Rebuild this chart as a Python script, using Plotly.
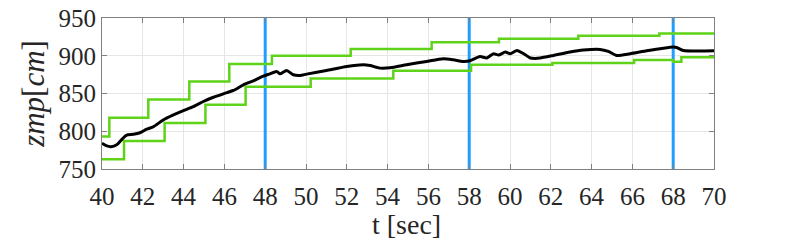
import plotly.graph_objects as go

# Upper bound (step)
upper_t = [40.0, 40.36, 42.27, 44.28, 46.24, 48.33, 52.19, 56.16, 59.46, 63.35, 67.32, 70.0]
upper_v = [793, 818, 842, 866, 889, 900, 909, 918, 922.5, 926.5, 929.5, 929.5]

# Lower bound (step)
lower_t = [40.0, 41.08, 43.07, 45.07, 47.04, 50.23, 54.28, 58.09, 62.08, 66.08, 68.0, 68.4, 70.0]
lower_v = [763, 787, 811, 835, 859, 870, 880, 888, 890.5, 894.5, 892, 898, 898.5]

# ZMP trajectory
zmp_t = [40.0, 40.2, 40.44, 40.72, 41.0, 41.21, 41.54, 41.86, 42.19, 42.52, 43.0, 43.5, 43.99,
         44.48, 44.97, 45.46, 45.95, 46.44, 46.93, 47.42, 47.91, 48.23, 48.56, 48.73, 49.05,
         49.38, 49.71, 50.03, 51.0, 52.0, 52.81, 53.14, 53.63, 54.12, 54.93, 55.91, 56.73,
         57.22, 57.71, 58.04, 58.53, 58.86, 59.19, 59.44, 59.77, 60.01, 60.34, 60.67, 61.0,
         61.23, 61.47, 62.12, 62.94, 63.59, 64.41, 64.82, 65.23, 65.88, 66.7, 67.52, 68.01,
         68.17, 68.5, 70.0]
zmp_v = [784, 781, 779.6, 782, 790, 795, 796, 798, 802.7, 806, 815, 821.7, 827.4,
         832.7, 839.4, 845, 849.6, 854, 861.5, 866.8, 873, 876, 879.2, 876, 880.5,
         874.8, 873.9, 875.7, 880.5, 885.8, 888, 887, 883.6, 884, 888, 892.5, 896,
         894.7, 892.5, 893.4, 899, 897, 902.7, 901, 904.9, 902.7, 907, 902.7, 897,
         896.5, 897, 900.4, 904.9, 907.5, 908.4, 905.8, 900.4, 902.7, 906.6, 910, 911.5,
         911, 907, 906.6]

# Vertical markers
vlines_t = [48, 58, 68]

x_ticks = list(range(40, 71, 2))
y_ticks = [750, 800, 850, 900, 950]
x_title = "t [sec]"
y_title = "<i>zmp</i>[<i>cm</i>]"

green = "#5fd319"
blue = "#1e9fff"
serif = "Times New Roman"
txt = "#262626"

fig = go.Figure()
for t in vlines_t:
    fig.add_trace(go.Scatter(x=[t, t], y=[750, 950], mode="lines",
                             line=dict(color=blue, width=3), showlegend=False))
fig.add_trace(go.Scatter(x=upper_t, y=upper_v, mode="lines", line_shape="hv",
                         line=dict(color=green, width=2.5), showlegend=False))
fig.add_trace(go.Scatter(x=lower_t, y=lower_v, mode="lines", line_shape="hv",
                         line=dict(color=green, width=2.5), showlegend=False))
fig.add_trace(go.Scatter(x=zmp_t, y=zmp_v, mode="lines", line_shape="spline",
                         line=dict(color="black", width=3, smoothing=0.6), showlegend=False))

axis_common = dict(
    showline=True, linecolor="#808080", linewidth=1, mirror="allticks",
    ticks="inside", ticklen=5, tickcolor="#808080",
    showgrid=True, gridcolor="#e6e6e6", gridwidth=1, zeroline=False,
    tickfont=dict(family=serif, size=25, color=txt),
    automargin=False,
)
fig.update_xaxes(range=[40, 70], tickvals=x_ticks, ticktext=[str(v) for v in x_ticks],
                 ticklabelstandoff=5, **axis_common)
fig.update_yaxes(range=[750, 950], tickvals=y_ticks, ticktext=[str(v) for v in y_ticks],
                 title=dict(text=y_title, font=dict(family=serif, size=31, color=txt),
                            standoff=4),
                 **axis_common)
fig.add_annotation(text=x_title, xref="paper", yref="paper", x=0.497, y=-0.37,
                   xanchor="center", yanchor="middle", showarrow=False,
                   font=dict(family=serif, size=28, color=txt))
fig.update_layout(width=789, height=244, paper_bgcolor="white", plot_bgcolor="white",
                  margin=dict(l=102, r=75, t=18, b=75), hovermode=False)
fig.write_html("out.html", config={"displayModeBar": False},
               post_script="document.body.style.margin='0';document.body.style.padding='0';")
